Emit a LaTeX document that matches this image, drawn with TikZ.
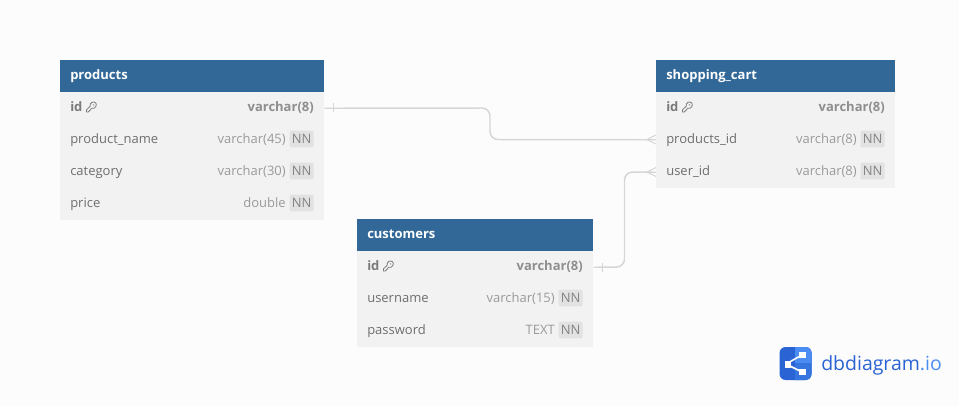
\documentclass[tikz,border=0pt]{standalone}
\usepackage{fontspec}
\setmainfont{Open Sans}
\usetikzlibrary{calc}
\definecolor{bgc}{HTML}{FCFCFC}
\definecolor{headc}{HTML}{316897}
\definecolor{rowc}{HTML}{F2F2F2}
\definecolor{namec}{HTML}{6E6E6E}
\definecolor{typec}{HTML}{9A9A9A}
\definecolor{boldc}{HTML}{7A7A7A}
\definecolor{badgec}{HTML}{E2E2E2}
\definecolor{linkc}{HTML}{D6D6D6}
\definecolor{logod}{HTML}{2A63D4}
\definecolor{logom}{HTML}{3674E0}
\definecolor{logol}{HTML}{4A8CF2}
\tikzset{
  x=0.75pt,y=-0.75pt,
  tablehead/.style={fill=headc,draw=none,inner sep=0pt,anchor=north west,minimum height=24pt},
  tablebody/.style={fill=rowc,draw=none,inner sep=0pt,anchor=north west},
  rowbox/.style={inner sep=0pt,anchor=north west,minimum height=24pt},
  headtext/.style={text=white,font=\fontsize{9.75}{12}\selectfont\bfseries,inner sep=0pt,anchor=base west,yshift=-0.35pt},
  fname/.style={text=namec,font=\fontsize{9.75}{12}\selectfont,inner sep=0pt,anchor=base west,yshift=-0.2pt},
  pkname/.style={text=boldc,font=\fontsize{9.75}{12}\selectfont\bfseries,inner sep=0pt,anchor=base west,yshift=-0.35pt},
  ftype/.style={text=typec,font=\fontsize{9.75}{12}\selectfont,inner sep=0pt,anchor=base east,yshift=-0.2pt},
  pktype/.style={text=boldc!85!white,font=\fontsize{9.75}{12}\selectfont\bfseries,inner sep=0pt,anchor=base east,yshift=-0.35pt},
  nnbadge/.style={fill=badgec,rounded corners=1pt,text=typec!85!black,font=\fontsize{9.75}{12}\selectfont,inner sep=0pt,minimum width=18pt,minimum height=12.5pt,anchor=east,text depth=0pt},
  link/.style={draw=linkc,line width=1.1pt,rounded corners=6pt},
  linkmark/.style={draw=linkc,line width=0.7pt},
  keyicon/.style={draw=boldc,line width=0.6pt},
}
\newcommand{\keyat}[1]{%
  \begin{scope}[shift={(#1)}]
    \draw[keyicon] (-5,5) -- (-5,2.8) -- (-1.4,-0.6)
      .. controls (-2.2,-4.6) and (2.4,-6.2) .. (4.2,-4.2)
      .. controls (6,-2) and (3.6,2.4) .. (0.4,1.2)
      -- (-3.2,5) -- cycle;
    \draw[keyicon,line width=0.45pt] (1.4,-2.6) -- (2.6,-1.6);
  \end{scope}}
\begin{document}
\begin{tikzpicture}
\useasboundingbox (0,0) rectangle (959,406);
\fill[bgc] (0,0) rectangle (959,406);

% products
\node[tablehead,minimum width=198pt] (ph) at (60,60) {};
\node[tablebody,minimum width=198pt,minimum height=96pt] (pb) at (60,92) {};
\node[rowbox,minimum width=198pt] (pr1) at (60,92) {};
\node[rowbox,minimum width=198pt] (pr2) at (60,124) {};
\node[rowbox,minimum width=198pt] (pr3) at (60,156) {};
\node[rowbox,minimum width=198pt] (pr4) at (60,188) {};
\node[headtext] (pt) at (70,79) {products};
\node[pkname] (pn1) at (70,111) {id};
\keyat{91.5,107}
\node[pktype] (pty1) at (314,111) {varchar(8)};
\node[fname] (pn2) at (70,143) {product\_name};
\node[nnbadge] (pb2) at (314,139) {NN};
\node[ftype] (pty2) at (286,143) {varchar(45)};
\node[fname] (pn3) at (70,175) {category};
\node[nnbadge] (pb3) at (314,171) {NN};
\node[ftype] (pty3) at (286,175) {varchar(30)};
\node[fname] (pn4) at (70,207) {price};
\node[nnbadge] (pb4) at (314,203) {NN};
\node[ftype] (pty4) at (286,207) {double};

% shopping_cart
\node[tablehead,minimum width=179pt] (sh) at (656,60) {};
\node[tablebody,minimum width=179pt,minimum height=72pt] (sb) at (656,92) {};
\node[rowbox,minimum width=179pt] (sr1) at (656,92) {};
\node[rowbox,minimum width=179pt] (sr2) at (656,124) {};
\node[rowbox,minimum width=179pt] (sr3) at (656,156) {};
\node[headtext] (st) at (666,79) {shopping\_cart};
\node[pkname] (sn1) at (666,111) {id};
\keyat{687.5,107}
\node[pktype] (sty1) at (885,111) {varchar(8)};
\node[fname] (sn2) at (666,143) {products\_id};
\node[nnbadge] (sb2) at (885,139) {NN};
\node[ftype] (sty2) at (857,143) {varchar(8)};
\node[fname] (sn3) at (666,175) {user\_id};
\node[nnbadge] (sb3) at (885,171) {NN};
\node[ftype] (sty3) at (857,175) {varchar(8)};

% customers
\node[tablehead,minimum width=177pt] (ch) at (357,219) {};
\node[tablebody,minimum width=177pt,minimum height=72pt] (cb) at (357,251) {};
\node[rowbox,minimum width=177pt] (cr1) at (357,251) {};
\node[rowbox,minimum width=177pt] (cr2) at (357,283) {};
\node[rowbox,minimum width=177pt] (cr3) at (357,315) {};
\node[headtext] (ct) at (367,238) {customers};
\node[pkname] (cn1) at (367,270) {id};
\keyat{388.5,266}
\node[pktype] (cty1) at (583,270) {varchar(8)};
\node[fname] (cn2) at (367,302) {username};
\node[nnbadge] (cb2) at (583,298) {NN};
\node[ftype] (cty2) at (555,302) {varchar(15)};
\node[fname] (cn3) at (367,334) {password};
\node[nnbadge] (cb3) at (583,330) {NN};
\node[ftype] (cty3) at (555,334) {TEXT};

% connectors
\coordinate (a1) at ($(pr1.east)+(0,0)$);
\coordinate (a2) at ($(sr2.west)+(0,-0.5)$);
\coordinate (b1) at ($(cr1.east)$);
\coordinate (b2) at ($(sr3.west)$);
\draw[link] (a1) -- (490,108) -- (490,139.5) -- (a2);
\draw[link] (b1) -- (624.5,267) -- (624.5,172) -- (b2);
\draw[linkmark] (333,103.5) -- (333,112.5);
\draw[linkmark] (602.5,262.5) -- (602.5,271.5);
\draw[linkmark] (a2 |- 0,135) -- (647,139.5) -- (a2 |- 0,144);
\draw[linkmark] (b2 |- 0,167.5) -- (647,172) -- (b2 |- 0,176.5);

% logo
\begin{scope}
  \path[clip] (779.5,347) [rounded corners=4.5pt] rectangle (811.5,380);
  \fill[logod] (779,347) rectangle (812,381);
  \fill[logom] (795,347) rectangle (812,381);
  \fill[logol] (795,347) -- (812,347) -- (812,363) -- (795,363) -- cycle;
  \draw[white,line width=1.2pt] (786,364) -- (802,355) (786,364) -- (802,372);
  \fill[white] (784.5,360.5) rectangle (791,367.5);
  \fill[white] (799,351.5) rectangle (805.5,358);
  \fill[white] (799,368.5) rectangle (805.5,375);
\end{scope}
\node[inner sep=0pt,anchor=base west,font=\fontsize{14.6}{18}\selectfont,text=logod] (logo) at (821,370.5) {dbdiagram\textcolor{logol}{.io}};
\end{tikzpicture}
\end{document}
